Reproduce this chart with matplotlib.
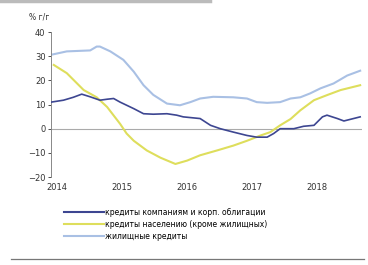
import matplotlib
matplotlib.use('Agg')
import matplotlib.pyplot as plt
from matplotlib.lines import Line2D

# fractional years and values (% y/y)
x_housing = [2014.0, 2014.24, 2014.6, 2014.70, 2014.75, 2014.91, 2015.11, 2015.27, 2015.42,
             2015.57, 2015.78, 2015.98, 2016.14, 2016.29, 2016.49, 2016.80, 2017.01, 2017.16,
             2017.32, 2017.52, 2017.68, 2017.83, 2017.98, 2018.14, 2018.34, 2018.55, 2018.75]
y_housing = [30.6, 32.0, 32.4, 34.0, 34.0, 32.0, 28.5, 23.6, 18.0,
             14.0, 10.4, 9.7, 11.0, 12.5, 13.2, 13.0, 12.5, 11.0,
             10.7, 11.0, 12.5, 13.0, 14.6, 16.7, 18.7, 22.0, 24.0]

x_retail = [2014.04, 2014.24, 2014.50, 2014.70, 2014.86, 2015.06, 2015.16, 2015.27, 2015.47,
            2015.68, 2015.91, 2016.09, 2016.29, 2016.55, 2016.80, 2017.01, 2017.22, 2017.37,
            2017.52, 2017.68, 2017.83, 2018.04, 2018.24, 2018.45, 2018.75]
y_retail = [26.4, 23.0, 16.0, 13.0, 9.0, 2.0, -2.0, -5.0, -9.0,
            -12.0, -14.6, -13.2, -11.0, -9.0, -7.0, -5.0, -2.8, -1.4,
            1.4, 4.0, 7.6, 11.8, 13.9, 16.0, 18.0]

x_corp = [2014.0, 2014.19, 2014.34, 2014.47, 2014.60, 2014.75, 2014.86, 2014.96, 2015.06,
          2015.27, 2015.42, 2015.57, 2015.78, 2015.93, 2016.03, 2016.29, 2016.45, 2016.60,
          2016.80, 2017.01, 2017.16, 2017.32, 2017.42, 2017.52, 2017.73, 2017.88, 2018.04,
          2018.17, 2018.24, 2018.40, 2018.50, 2018.75]
y_corp = [11.0, 11.8, 13.0, 14.3, 13.2, 11.8, 12.2, 12.5, 11.0,
          8.3, 6.2, 6.0, 6.2, 5.6, 4.9, 4.2, 1.4, 0.0,
          -1.4, -2.8, -3.5, -3.5, -2.0, 0.0, 0.0, 1.0, 1.4,
          4.9, 5.6, 4.2, 3.2, 4.9]

years = [2014, 2015, 2016, 2017, 2018]
labels = ['кредиты компаниям и корп. облигации',
          'кредиты населению (кроме жилищных)',
          'жилищные кредиты']
colors = ['#3d4691', '#dede5c', '#a9c0e4']

plt.rcParams['font.family'] = ['DejaVu Sans']
fig = plt.figure(figsize=(3.68, 2.65), dpi=100)
ax = fig.add_axes([0.139, 0.332, 0.845, 0.547])

ax.axhline(0, color='#aaaaaa', lw=0.8, zorder=1)
ax.plot(x_corp, y_corp, color=colors[0], lw=1.2, zorder=3)
ax.plot(x_retail, y_retail, color=colors[1], lw=1.5, zorder=2)
ax.plot(x_housing, y_housing, color=colors[2], lw=1.5, zorder=2)

ax.set_xlim(2014, 2018.78)
ax.set_ylim(-20, 40)
ax.set_yticks(range(-20, 41, 10))
ax.set_xticks([y + 0.09 for y in years])
ax.set_xticklabels([str(y) for y in years])
ax.tick_params(axis='x', length=0, labelsize=6, pad=4, colors='#333333')
ax.tick_params(axis='y', length=2, labelsize=6, pad=2, colors='#333333', width=0.6)
for s in ['top', 'right', 'bottom']:
    ax.spines[s].set_visible(False)
ax.spines['left'].set_color('#888888')
ax.spines['left'].set_linewidth(0.7)

fig.text(0.08, 0.925, '% г/г', fontsize=5.5, color='#333333')

handles = [Line2D([], [], color=c, lw=1.5) for c in colors]
fig.legend(handles, labels, loc='upper left', bbox_to_anchor=(0.175, 0.215),
           frameon=False, fontsize=5.5, handlelength=5.2, handletextpad=0.1,
           labelspacing=0.4, borderpad=0, borderaxespad=0)

# decorations around the chart (title bar, bottom rule)
fig.add_artist(Line2D([0.0, 0.57], [0.995, 0.995], color='#bbbbbb', lw=2.5))
fig.add_artist(Line2D([0.03, 0.99], [0.023, 0.023], color='#777777', lw=0.9))

fig.savefig('out.png', dpi=100)
